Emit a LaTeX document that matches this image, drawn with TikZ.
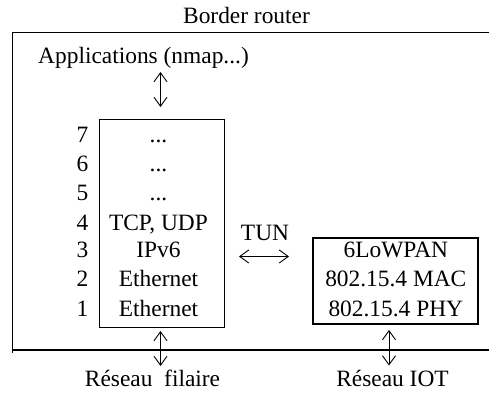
\documentclass[tikz,border=0pt]{standalone}
\usepackage{fontspec}
\setmainfont{Liberation Serif}
\usetikzlibrary{arrows.meta}
\def\threedots{...}
\begin{document}
\begin{tikzpicture}[x=1pt,y=-1pt,
  lbl/.style={font=\fontsize{23.4}{26}\selectfont, inner sep=0pt, anchor=base},
  dbl/.style={{Straight Barb[length=9pt,width=13pt]}-{Straight Barb[length=9pt,width=13pt]}, line width=0.9pt},
  stackbox/.style={draw, line width=0.9pt, inner sep=0pt},
  iotbox/.style={draw, line width=2pt, inner sep=0pt}]
\useasboundingbox (0,0) rectangle (489,400);

% router frame (open on the right)
\draw[line width=0.9pt] (489,32) -- (12.5,32) -- (12.5,353);
\draw[line width=2pt] (12.5,349.5) -- (489,349.5);
\node[lbl] (title) at (246.5,23) {Border router};

% applications
\node[lbl] (apps) at (143.5,63) {Applications (nmap...)};

% host protocol stack
\node[stackbox, minimum width=125pt, minimum height=208pt] (stack) at (161.8,223.3) {};
\foreach \n/\t/\y in {7/\threedots/142,6/\threedots/171.5,5/\threedots/200,4/{TCP, UDP}/230,3/IPv6/257.5,2/Ethernet/286.5,1/Ethernet/316.5}{
  \node[lbl] (num\n) at (82.5,\y) {\n};
  \node[lbl] (layer\n) at (158.5,\y) {\t};
}

% 802.15.4 stack
\node[iotbox, minimum width=165pt, minimum height=86pt] (iot) at (395.8,281.3) {};
\node[lbl] (lowpan) at (395.8,257.5) {6LoWPAN};
\node[lbl] (mac) at (395.8,286.5) {802.15.4 MAC};
\node[lbl] (phy) at (395.8,316.5) {802.15.4 PHY};

% tunnel
\node[lbl] (tun) at (265,240) {TUN};
\coordinate (tunL) at (239,256.5);
\coordinate (tunR) at (289,256.5);
\draw[dbl] (tunL) -- (tunR);

% vertical links
\coordinate (appA) at (160.5,72);
\coordinate (appB) at (160.5,107);
\draw[dbl] (appA) -- (appB);

\node[lbl] (wired) at (152.5,386.5) {Réseau\ \ filaire};
\node[lbl] (iotnet) at (392.5,386.5) {Réseau IOT};

\coordinate (wA) at (160.5,331);
\coordinate (wB) at (160.5,366);
\draw[dbl] (wA) -- (wB);
\coordinate (iA) at (389,330);
\coordinate (iB) at (389,365.5);
\draw[dbl] (iA) -- (iB);
\end{tikzpicture}
\end{document}
